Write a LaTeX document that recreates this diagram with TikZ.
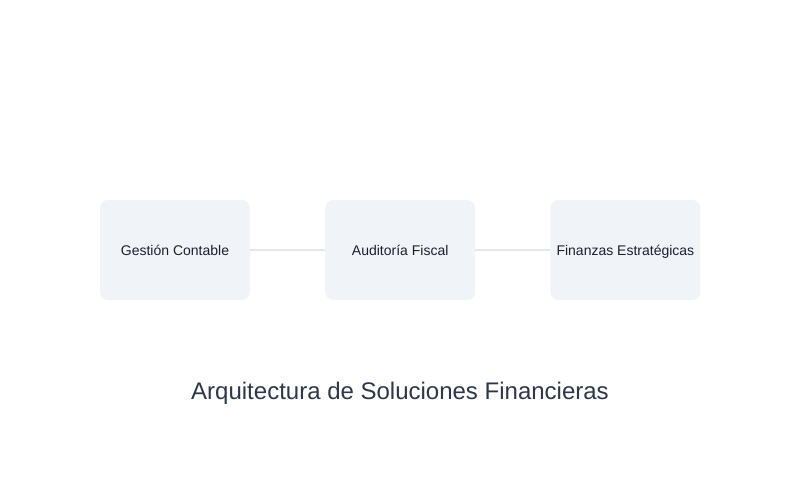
\documentclass[tikz,border=0pt]{standalone}
\usepackage{fontspec}
\setmainfont{Liberation Sans}
\usetikzlibrary{positioning}
\definecolor{boxfill}{HTML}{F0F3F8}
\definecolor{linkgray}{HTML}{E2E8F0}
\definecolor{boxtext}{HTML}{1A202C}
\definecolor{titletext}{HTML}{2D3748}
\tikzset{
  area/.style={fill=boxfill,rounded corners=6pt,minimum width=112.5pt,minimum height=75pt,inner sep=0pt,text height=10pt,text depth=2.2pt,text=boxtext,font=\fontsize{10.5}{13}\selectfont},
  link/.style={draw=linkgray,line width=1.5pt}
}

\begin{document}
\begin{tikzpicture}[x=0.75pt,y=-0.75pt]
  \useasboundingbox (0,0) rectangle (800,500);
  \node[area] (gc) at (175,250) {Gestión Contable};
  \node[area,right=56pt of gc] (af) {Auditoría Fiscal};
  \node[area,right=56pt of af] (fe) {Finanzas Estratégicas};
  \path[link]
    (gc) -- (af)
    (af) -- (fe);
  \node[text=titletext,font=\fontsize{18}{22}\selectfont] (title) at (400,393) {Arquitectura de Soluciones Financieras};
\end{tikzpicture}
\end{document}
